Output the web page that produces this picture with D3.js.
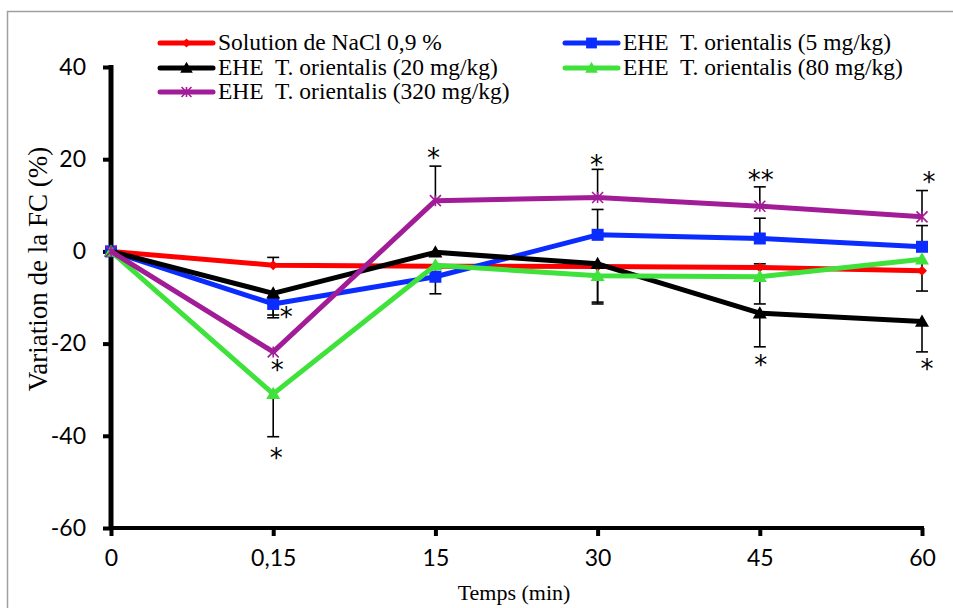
<!DOCTYPE html>
<html><head><meta charset="utf-8">
<script src="https://cdn.jsdelivr.net/npm/d3@7"></script>
<style>body{margin:0;background:#fff}svg{display:block}</style>
</head><body>
<script>
// ---- data ----
const categories = ["0", "0,15", "15", "30", "45", "60"];
const yTicks = [-60, -40, -20, 0, 20, 40];
const nacl  = [0, -3.0, -3.2, -3.3, -3.5, -4.2];
const ehe5  = [0, -11.4, -5.5, 3.6, 2.8, 1.0];
const ehe20 = [0, -9.1, -0.2, -2.7, -13.4, -15.2];
const ehe80 = [0, -30.9, -3.0, -5.3, -5.5, -1.7];
const ehe320= [0, -21.8, 11.0, 11.7, 9.8, 7.5];
// signed error bar lengths (sign = direction drawn)
const naclErr  = [0, 1.7, 0, 0, 0.8, 0];
const ehe5Err  = [0, -2.4, -3.7, 5.5, 4.4, 4.6];
const ehe20Err = [0, -5.3, 0, -8.3, -7.3, -6.6];
const ehe80Err = [0, -9.3, 0, -6.1, -5.9, -6.9];
const ehe320Err= [0, 0, 7.5, 6.1, 4.2, 5.7];
const seriesNames = ["Solution de NaCl 0,9 %", "EHE  T. orientalis (5 mg/kg)", "EHE  T. orientalis (20 mg/kg)", "EHE  T. orientalis (80 mg/kg)", "EHE  T. orientalis (320 mg/kg)"];
// significance marks: category, value, text, horizontal shift
const starCats = ["0,15", "0,15", "0,15", "15", "30", "45", "45", "60", "60"];
const starVals = [-13.1, -24.6, -43.7, 21.3, 19.8, 16.5, -23.5, 16.1, -24.4];
const starTexts = ["*", "*", "*", "*", "*", "**", "*", "*", "*"];
const starShift = [13, 4, 3, -2, -1, 1, 1, 7, 5];

const W = 953, H = 608;
const svg = d3.select("body").append("svg").attr("width", W).attr("height", H);

// frame
svg.append("rect").attr("x", 7.5).attr("y", 11.5).attr("width", 980).attr("height", 640)
  .attr("fill", "none").attr("stroke", "#a0a0a0").attr("stroke-width", 1.5);

const x = d3.scalePoint().domain(categories).range([111, 922]);
const y = d3.scaleLinear().domain([-60, 40]).range([528, 67]);

const series = [
  {name: seriesNames[0], vals: nacl, err: naclErr, color: "#ff0000", marker: "diamond"},
  {name: seriesNames[1], vals: ehe5, err: ehe5Err, color: "#0a2cff", marker: "square"},
  {name: seriesNames[2], vals: ehe20, err: ehe20Err, color: "#000000", marker: "triangle"},
  {name: seriesNames[3], vals: ehe80, err: ehe80Err, color: "#3ee23a", marker: "triangle"},
  {name: seriesNames[4], vals: ehe320, err: ehe320Err, color: "#a21c97", marker: "star"}
];

// axes
const yAxis = d3.axisLeft(y).tickValues(yTicks).tickSize(8).tickPadding(17).tickFormat(d => String(d));
const gy = svg.append("g").attr("transform", "translate(111,0)").call(yAxis);
gy.select(".domain").attr("stroke", "#000").attr("stroke-width", 5).attr("d", "M0,65V530");
gy.selectAll(".tick line").attr("stroke", "#000").attr("stroke-width", 4);
gy.selectAll(".tick text").attr("font-family", "Lato, 'Open Sans', sans-serif").attr("font-size", 23).attr("fill", "#000");

const xAxis = d3.axisBottom(x).tickSize(8).tickPadding(14);
const gx = svg.append("g").attr("transform", "translate(0,528)").call(xAxis);
gx.select(".domain").attr("stroke", "#000").attr("stroke-width", 4).attr("d", "M109,0H924");
gx.selectAll(".tick line").attr("stroke", "#000").attr("stroke-width", 4);
gx.selectAll(".tick text").attr("font-family", "Lato, 'Open Sans', sans-serif").attr("font-size", 23).attr("fill", "#000");

// axis titles
svg.append("text").attr("transform", "translate(47,269) rotate(-90)").attr("text-anchor", "middle")
  .attr("font-family", "'Liberation Serif', 'Times New Roman', serif").attr("font-size", 27).text("Variation de la FC (%)");
svg.append("text").attr("x", 514).attr("y", 600).attr("text-anchor", "middle")
  .attr("font-family", "'Liberation Serif', 'Times New Roman', serif").attr("font-size", 22).text("Temps (min)");

// error bars
const eg = svg.append("g").attr("stroke", "#000").attr("stroke-width", 1.6);
series.forEach(s => {
  s.vals.forEach((v, i) => {
    const e = s.err[i];
    if (!e) return;
    const cx = x(categories[i]);
    eg.append("line").attr("x1", cx).attr("x2", cx).attr("y1", y(v)).attr("y2", y(v + e));
    eg.append("line").attr("x1", cx - 6).attr("x2", cx + 6).attr("y1", y(v + e)).attr("y2", y(v + e));
  });
});

function drawMarker(g, type, cx, cy, color, scale) {
  scale = scale || 1;
  if (type === "diamond") {
    const r = 5 * scale;
    g.append("path").attr("d", `M${cx},${cy - r}L${cx + r},${cy}L${cx},${cy + r}L${cx - r},${cy}Z`).attr("fill", color);
  } else if (type === "square") {
    const r = 6 * scale;
    g.append("rect").attr("x", cx - r).attr("y", cy - r).attr("width", 2 * r).attr("height", 2 * r).attr("fill", color);
  } else if (type === "triangle") {
    const r = 7 * scale;
    g.append("path").attr("d", `M${cx},${cy - r}L${cx + r},${cy + r * 0.75}L${cx - r},${cy + r * 0.75}Z`).attr("fill", color);
  } else if (type === "star") {
    const r = 5.5 * scale;
    g.append("path").attr("d", `M${cx - r},${cy - r}L${cx + r},${cy + r}M${cx - r},${cy + r}L${cx + r},${cy - r}M${cx},${cy - r}V${cy + r}`)
      .attr("stroke", color).attr("stroke-width", 1.6).attr("fill", "none");
  }
}

// lines and markers
const line = d3.line().x((d, i) => x(categories[i])).y(d => y(d));
series.forEach(s => {
  const g = svg.append("g");
  g.append("path").datum(s.vals).attr("d", line).attr("fill", "none")
    .attr("stroke", s.color).attr("stroke-width", 5).attr("stroke-linejoin", "round");
  s.vals.forEach((v, i) => drawMarker(g, s.marker, x(categories[i]), y(v), s.color));
});

// significance stars
starCats.forEach((c, i) => {
  svg.append("text").attr("x", x(c) + starShift[i]).attr("y", y(starVals[i]) + 14)
    .attr("text-anchor", "middle").attr("font-family", "'DejaVu Sans', sans-serif").attr("font-size", 26)
    .style("white-space", "pre").text(starTexts[i]);
});

// legend
const legendPos = [[160, 43], [565, 43], [160, 68], [565, 68], [160, 92]];
series.forEach((s, i) => {
  const [lx, ly] = legendPos[i];
  const g = svg.append("g");
  g.append("line").attr("x1", lx).attr("x2", lx + 53).attr("y1", ly).attr("y2", ly)
    .attr("stroke", s.color).attr("stroke-width", 5).attr("stroke-linecap", "round");
  drawMarker(g, s.marker, lx + 26.5, ly, s.color, 0.9);
  g.append("text").attr("x", lx + 58).attr("y", ly + 7)
    .attr("font-family", "'Liberation Serif', 'Times New Roman', serif").attr("font-size", 23.5)
    .style("white-space", "pre").text(s.name);
});
</script>
</body></html>
